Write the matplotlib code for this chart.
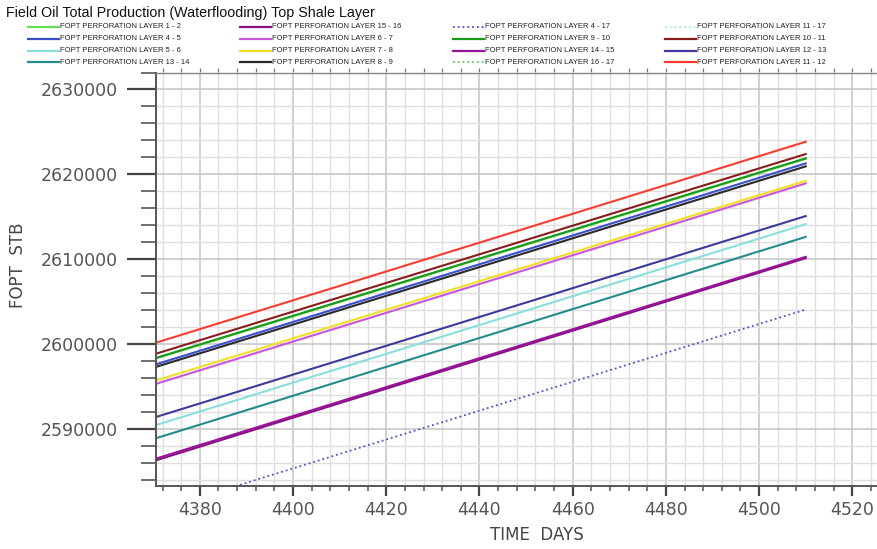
import numpy as np
import matplotlib
matplotlib.use('Agg')
import matplotlib.pyplot as plt
from matplotlib.lines import Line2D
from matplotlib.ticker import MultipleLocator

# Time axis (days) - start and end of the plotted period
days = [4370.0, 4510.0]

# Series in legend order (row by row)
labels = [
    'FOPT PERFORATION LAYER 1 - 2', 'FOPT PERFORATION LAYER 15 - 16',
    'FOPT PERFORATION LAYER 4 - 17', 'FOPT PERFORATION LAYER 11 - 17',
    'FOPT PERFORATION LAYER 4 - 5', 'FOPT PERFORATION LAYER 6 - 7',
    'FOPT PERFORATION LAYER 9 - 10', 'FOPT PERFORATION LAYER 10 - 11',
    'FOPT PERFORATION LAYER 5 - 6', 'FOPT PERFORATION LAYER 7 - 8',
    'FOPT PERFORATION LAYER 14 - 15', 'FOPT PERFORATION LAYER 12 - 13',
    'FOPT PERFORATION LAYER 13 - 14', 'FOPT PERFORATION LAYER 8 - 9',
    'FOPT PERFORATION LAYER 16 - 17', 'FOPT PERFORATION LAYER 11 - 12',
]
start_vals = [
    2598250, 2586250, 2580300, 2555000,
    2597550, 2595250, 2598300, 2598800,
    2590400, 2595650, 2586450, 2591350,
    2588850, 2597250, 2556000, 2600100,
]
end_vals = [
    2621850, 2610150, 2604100, 2578800,
    2621300, 2618950, 2621900, 2622400,
    2614150, 2619250, 2610300, 2615100,
    2612650, 2620950, 2579800, 2623850,
]
colors = [
    '#66dd55', '#881188', '#4455cc', '#99eedd',
    '#3a4fd0', '#cc55dd', '#1a9a1a', '#8b1c1c',
    '#88e0dc', '#f0e020', '#9a149a', '#3c3a9c',
    '#238c8c', '#2a2a2a', '#55cc55', '#ff3b30',
]
styles = ['-', '-', ':', ':', '-', '-', '-', '-',
          '-', '-', '-', '-', '-', '-', ':', '-']

W, H = 877, 549
fig = plt.figure(figsize=(W / 100, H / 100), dpi=100)
PT = 0.72  # pixels -> points at 100 dpi


def fx(px):
    return px / W


def fy(py):
    return 1 - py / H


ax = fig.add_axes([fx(156), fy(486), fx(877) - fx(156), fy(72.5) - fy(486)])

for lab, s, e, c, ls in zip(labels, start_vals, end_vals, colors, styles):
    ax.plot(days, [s, e], color=c, ls=ls, lw=1.5 if ls == '-' else 1.3)

ax.set_xlim(4370.6, 4525.3)
ax.set_ylim(2583330, 2632000)

ax.xaxis.set_major_locator(MultipleLocator(20))
ax.xaxis.set_minor_locator(MultipleLocator(4))
ax.yaxis.set_major_locator(MultipleLocator(10000))
ax.yaxis.set_minor_locator(MultipleLocator(2000))
ax.ticklabel_format(axis='y', style='plain', useOffset=False)

ax.grid(True, which='minor', color='#dedede', lw=1.0)
ax.grid(True, which='major', color='#c8c8c8', lw=1.2)
ax.set_axisbelow(True)

for side in ['left', 'bottom']:
    ax.spines[side].set_color('#555555')
    ax.spines[side].set_linewidth(1.4)
ax.spines['top'].set_color('#888888')
ax.spines['top'].set_linewidth(1.0)
ax.spines['right'].set_visible(False)

ax.tick_params(axis='y', which='major', length=29 * PT, width=1.6, color='#444444',
               labelsize=12.5, labelcolor='#555555', pad=9 * PT)
ax.tick_params(axis='y', which='minor', length=15 * PT, width=1.2, color='#555555')
ax.tick_params(axis='x', which='major', length=10 * PT, width=1.6, color='#444444',
               labelsize=12.5, labelcolor='#555555', pad=5 * PT)
ax.tick_params(axis='x', which='minor', length=5 * PT, width=1.1, color='#555555')

# short ticks along the top edge
top = ax.secondary_xaxis('top')
top.xaxis.set_major_locator(MultipleLocator(4))
top.tick_params(length=4 * PT, width=0.9, color='#777777', labeltop=False)
top.spines['top'].set_visible(False)

fig.text(fx(537), fy(535), 'TIME  DAYS', ha='center', va='center',
         fontsize=12, color='#444444')
fig.text(fx(18), fy(265), 'FOPT  STB', ha='center', va='center',
         rotation=90, fontsize=12, color='#444444')

# Title and legend block above the axes
fig.text(fx(6.5), fy(12.7), 'Field Oil Total Production (Waterflooding) Top Shale Layer',
         ha='left', va='center', fontsize=10.3, family='Liberation Sans', color='#111111')

col_x = [28, 240, 453, 665]
row_y = [26.7, 38.7, 50.7, 62.5]
for i, (lab, c, ls) in enumerate(zip(labels, colors, styles)):
    r, k = divmod(i, 4)
    x0 = col_x[k]
    y0 = row_y[r]
    fig.add_artist(Line2D([fx(x0), fx(x0 + 31)], [fy(y0), fy(y0)],
                          color=c, ls=ls, lw=1.6 if ls == '-' else 1.3))
    fig.text(fx(x0 + 32), fy(y0), lab, ha='left', va='center',
             fontsize=5.5, family='Liberation Sans', color='#222222')

fig.savefig('out.png', dpi=100)
